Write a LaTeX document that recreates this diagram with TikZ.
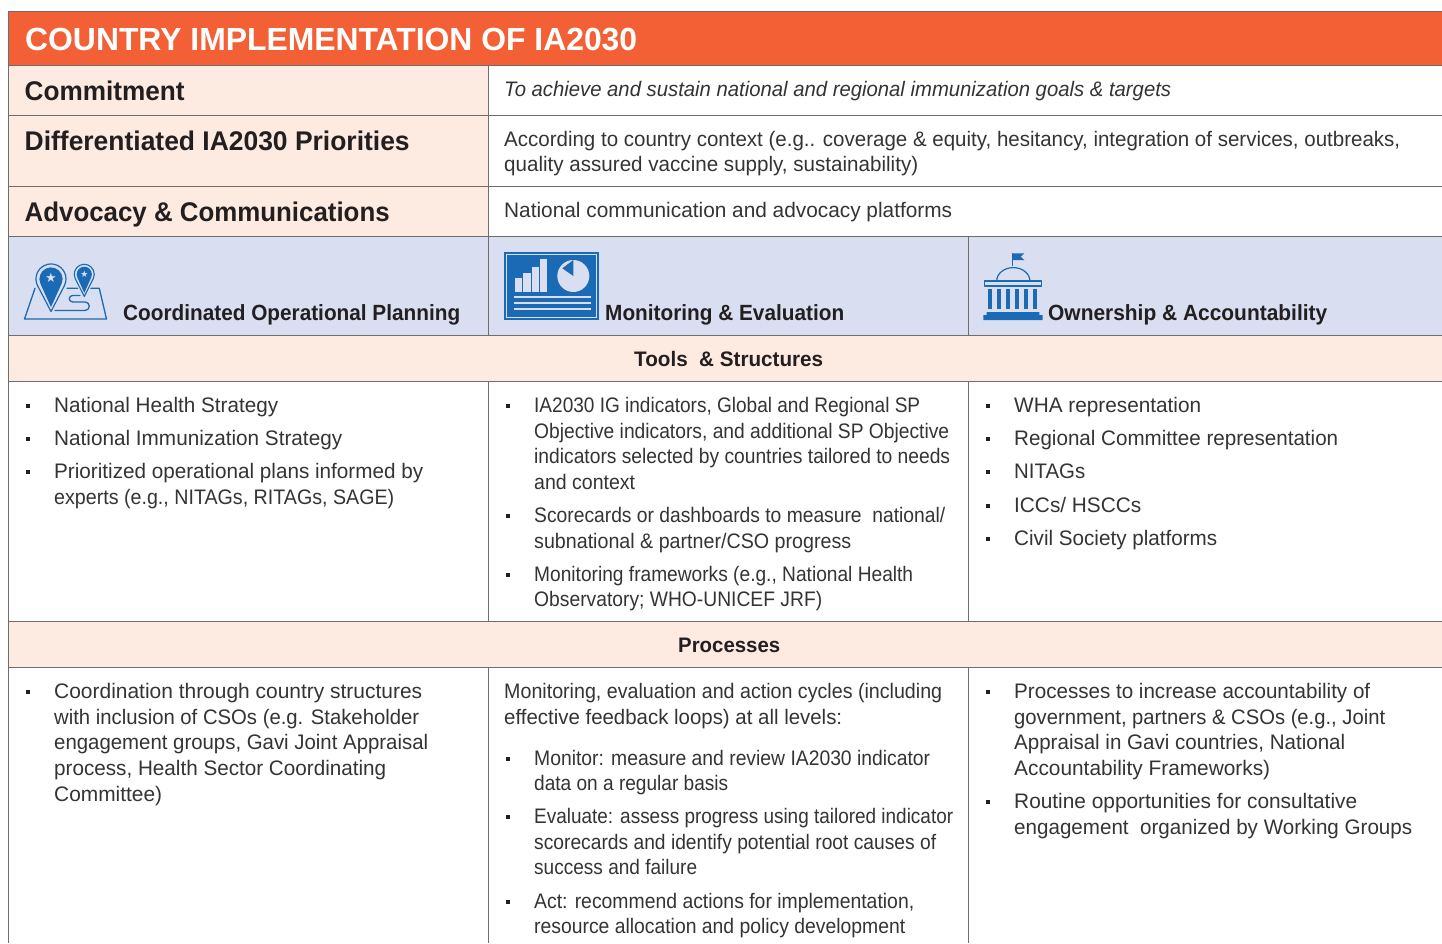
\documentclass[tikz,border=0pt]{standalone}
\usepackage{fontspec}
\usepackage{graphicx}
\setmainfont{Liberation Sans}
\definecolor{ink}{HTML}{231F20}
\definecolor{bodyink}{HTML}{363334}
\definecolor{rule}{HTML}{6E6E6E}
\definecolor{orangehead}{HTML}{F46036}
\definecolor{cream}{HTML}{FDEBE1}
\definecolor{bluehead}{HTML}{D9DEF0}
\definecolor{iconblue}{HTML}{1B6AB5}
\tikzset{
  x=1pt,y=-1pt,
  cell/.style={draw=rule,line width=1pt},
  lbl/.style={inner sep=0pt,anchor=base west,text=bodyink,font=\fontsize{21}{21}\selectfont},
  ttl/.style={lbl,text=white,font=\fontsize{32}{32}\selectfont\bfseries},
  rowh/.style={lbl,text=ink,font=\fontsize{27}{27}\selectfont\bfseries},
  colh/.style={lbl,text=ink,font=\fontsize{22}{22}\selectfont\bfseries},
  sech/.style={lbl,text=ink,font=\fontsize{21}{21}\selectfont\bfseries},
  bul/.style={fill=ink,draw=none,inner sep=0pt,minimum size=3.2pt},
  iconline/.style={draw=iconblue,line width=1.3pt,line cap=round,line join=round},
}
\newcommand{\fitw}[2]{\resizebox{#1pt}{\height}{#2}}
\newcommand{\txt}[5]{\node[lbl] (#1) at (#2,#3) {\fitw{#4}{#5}};}
\newcommand{\blt}[3]{\node[bul] (#1) at (#2,#3) {};}
\begin{document}
\begin{tikzpicture}
\useasboundingbox (0,0) rectangle (1442,943);
% fills
\fill[white] (0,0) rectangle (1442,943);
\fill[orangehead] (8.5,11.5) rectangle (1442,65.5);
\fill[cream] (8.5,65.5) rectangle (488.5,236.5);
\fill[bluehead] (8.5,236.5) rectangle (1442,335.5);
\fill[cream] (8.5,335.5) rectangle (1442,381.5);
\fill[cream] (8.5,621.5) rectangle (1442,667.5);
% rules
\foreach \yy in {11,65,115,186,236,335,381,621,667}
  \draw[cell] (8.5,\yy+0.4) -- (1442,\yy+0.4);
\draw[cell] (8.5,11) -- (8.5,943);
\draw[cell] (488.5,65.5) -- (488.5,335.5);
\draw[cell] (968.5,236.5) -- (968.5,335.5);
\draw[cell] (488.5,381.5) -- (488.5,621.5);
\draw[cell] (968.5,381.5) -- (968.5,621.5);
\draw[cell] (488.5,667.5) -- (488.5,943);
\draw[cell] (968.5,667.5) -- (968.5,943);
% header
\node[ttl] (title) at (25,50) {\fitw{612}{COUNTRY IMPLEMENTATION OF IA2030}};
\node[rowh] (commit) at (24.5,100) {\fitw{160}{Commitment}};
\node[rowh] (prior) at (24.5,150) {\fitw{385}{Differentiated IA2030 Priorities}};
\node[rowh] (advo) at (24.5,221) {\fitw{365}{Advocacy \& Communications}};
\txt{c1}{504}{96}{667}{\itshape To achieve and sustain national and regional immunization goals \& targets}
\txt{p1}{504}{146}{896}{According to country context (e.g.. coverage \& equity, hesitancy, integration of services, outbreaks,}
\txt{p2}{504}{171}{414}{quality assured vaccine supply, sustainability)}
\txt{a1}{504}{217}{448}{National communication and advocacy platforms}
\node[colh] (h1) at (123,320) {\fitw{337}{Coordinated Operational Planning}};
\node[colh] (h2) at (605,320) {\fitw{239}{Monitoring \& Evaluation}};
\node[colh] (h3) at (1048,320) {\fitw{279}{Ownership \& Accountability}};
\node[sech] (tools) at (634,366) {\fitw{189}{Tools\ \ \& Structures}};
\node[sech] (proc) at (678,652) {\fitw{102}{Processes}};
% tools col 1
\blt{b1}{28}{406}\txt{t1}{54}{412}{224}{National Health Strategy}
\blt{b2}{28}{439}\txt{t2}{54}{445}{288}{National Immunization Strategy}
\blt{b3}{28}{472}\txt{t3}{54}{478}{369}{Prioritized operational plans informed by}
\txt{t4}{54}{504}{340}{experts (e.g., NITAGs, RITAGs, SAGE)}
% tools col 2
\blt{b4}{508}{406}\txt{m1}{534}{412}{386}{IA2030 IG indicators, Global and Regional SP}
\txt{m2}{534}{438}{415}{Objective indicators, and additional SP Objective}
\txt{m3}{534}{463}{416}{indicators selected by countries tailored to needs}
\txt{m4}{534}{489}{101}{and context}
\blt{b5}{508}{516}\txt{m5}{534}{522}{411}{Scorecards or dashboards to measure\ \ national/}
\txt{m6}{534}{548}{317}{subnational \& partner/CSO progress}
\blt{b6}{508}{575}\txt{m7}{534}{581}{379}{Monitoring frameworks (e.g., National Health}
\txt{m8}{534}{606}{288}{Observatory; WHO-UNICEF JRF)}
% tools col 3
\blt{b7}{988}{406}\txt{o1}{1014}{412}{187}{WHA representation}
\blt{b8}{988}{439}\txt{o2}{1014}{445}{324}{Regional Committee representation}
\blt{b9}{988}{472}\txt{o3}{1014}{478}{71}{NITAGs}
\blt{b10}{988}{506}\txt{o4}{1014}{512}{127}{ICCs/ HSCCs}
\blt{b11}{988}{539}\txt{o5}{1014}{545}{203}{Civil Society platforms}
% processes col 1
\blt{b12}{28}{692}\txt{q1}{54}{698}{368}{Coordination through country structures}
\txt{q2}{54}{724}{365}{with inclusion of CSOs (e.g. Stakeholder}
\txt{q3}{54}{749}{374}{engagement groups, Gavi Joint Appraisal}
\txt{q4}{54}{775}{332}{process, Health Sector Coordinating}
\txt{q5}{54}{801}{108}{Committee)}
% processes col 2
\txt{r1}{504}{698}{438}{Monitoring, evaluation and action cycles (including}
\txt{r2}{504}{724}{338}{effective feedback loops) at all levels:}
\blt{b13}{508}{759}\txt{r3}{534}{765}{396}{Monitor: measure and review IA2030 indicator}
\txt{r4}{534}{790}{194}{data on a regular basis}
\blt{b14}{508}{817}\txt{r5}{534}{823}{419}{Evaluate: assess progress using tailored indicator}
\txt{r6}{534}{849}{402}{scorecards and identify potential root causes of}
\txt{r7}{534}{874}{163}{success and failure}
\blt{b15}{508}{902}\txt{r8}{534}{908}{380}{Act: recommend actions for implementation,}
\txt{r9}{534}{933}{371}{resource allocation and policy development}
% processes col 3
\blt{b16}{988}{692}\txt{s1}{1014}{698}{356}{Processes to increase accountability of}
\txt{s2}{1014}{724}{371}{government, partners \& CSOs (e.g., Joint}
\txt{s3}{1014}{749}{331}{Appraisal in Gavi countries, National}
\txt{s4}{1014}{775}{256}{Accountability Frameworks)}
\blt{b17}{988}{802}\txt{s5}{1014}{808}{343}{Routine opportunities for consultative}
\txt{s6}{1014}{834}{398}{engagement\ \ organized by Working Groups}
% icon 1: map and pins (y axis points down, so arc angles are negated)
\draw[iconline] (35,288.3) -- (24.5,319) -- (106.5,319) -- (99.3,288.3) -- (67,288.3);
\draw[iconline] (80,295.5) -- (72.5,295.5) arc[start angle=-90,end angle=-270,radius=3.2] -- (85,301.9) arc[start angle=-90,end angle=90,radius=4.3] -- (55,310.5);
\fill[bluehead] (51,315) -- (35.5,285.8) arc[start angle=-205,end angle=25,radius=17] -- cycle;
\draw[iconline,line width=1.2pt] (51,311.5) -- (37.4,285.3) arc[start angle=-205,end angle=25,radius=15] -- cycle;
\fill[iconblue] (51,307) -- (40.5,283.9) arc[start angle=-205,end angle=25,radius=11.6] -- cycle;
\node[inner sep=0pt,text=bluehead,font=\fontsize{13}{13}\selectfont] (star1) at (51,277.5) {\fontspec{DejaVu Sans}★};
\fill[bluehead] (84.3,299.5) -- (73.4,279.3) arc[start angle=-205,end angle=25,radius=12] -- cycle;
\draw[iconline,line width=1.1pt] (84.3,296.5) -- (75.2,278.5) arc[start angle=-205,end angle=25,radius=10] -- cycle;
\fill[iconblue] (84.3,293) -- (77.4,277.5) arc[start angle=-205,end angle=25,radius=7.6] -- cycle;
\node[inner sep=0pt,text=bluehead,font=\fontsize{9}{9}\selectfont] (star2) at (84.3,274) {\fontspec{DejaVu Sans}★};
% icon 2: report
\fill[iconblue] (504,251.7) rectangle (599.3,320);
\draw[bluehead,line width=1.3pt] (506.8,254.4) rectangle (596.5,317.2);
\foreach \xa/\xb/\ya in {515/522.3/278.3,523.3/530.7/273.3,531.7/539/267.3,540/547.3/259.3}
  \fill[bluehead] (\xa,\ya) rectangle (\xb,292.3);
\fill[bluehead] (573.3,276) circle[radius=16];
\fill[iconblue] (573.3,276) -- (562.3,268.3) -- (573.3,260) -- cycle;
\foreach \yy in {296.7,302.7,309}
  \draw[bluehead,line width=2pt] (514,\yy) -- (590.7,\yy);
% icon 3: building
\draw[iconline,line width=1.4pt,line cap=butt] (1012.4,253.3) -- (1012.4,266);
\fill[iconblue] (1012.4,253.3) -- (1024.3,253.3) -- (1020.7,256.7) -- (1024.3,260) -- (1012.4,260) -- cycle;
\draw[iconline,line width=1.2pt] (996.7,281) arc[start angle=-180,end angle=0,x radius=16.6,y radius=13.4];
\draw[iconline,line width=1.2pt] (984.7,281) rectangle (1041.6,286);
\foreach \xx in {988,997,1006,1015,1024,1033}
  \fill[iconblue] (\xx,289.3) rectangle (\xx+4,309.3);
\fill[iconblue] (986.7,312) -- (1039.3,312) -- (1039.3,315) -- (1042.7,315) -- (1042.7,320) -- (983.3,320) -- (983.3,315) -- (986.7,315) -- cycle;
\end{tikzpicture}
\end{document}
